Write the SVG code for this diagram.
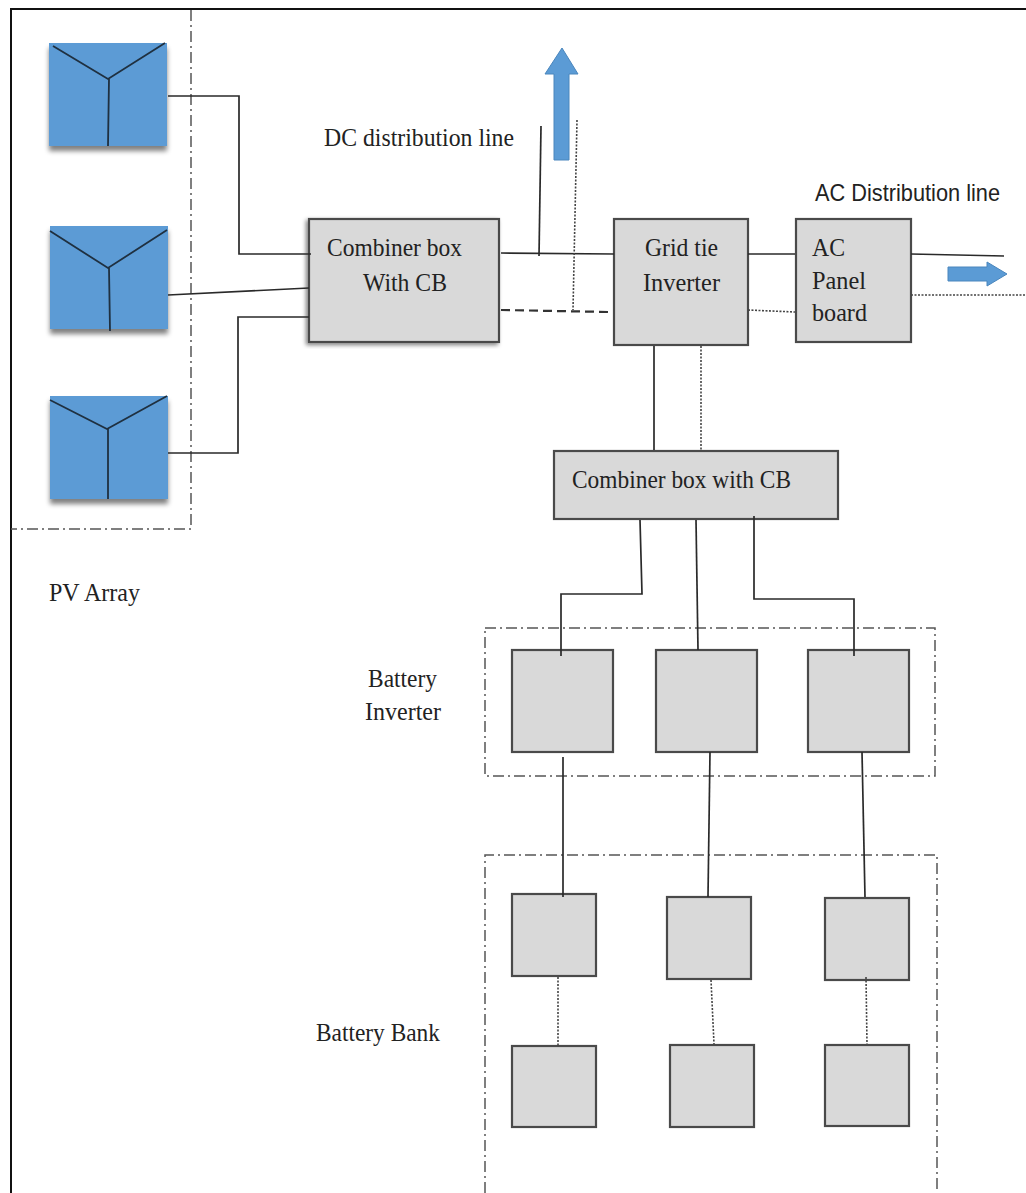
<svg xmlns="http://www.w3.org/2000/svg" width="1026" height="1193" viewBox="0 0 1026 1193">
<style>
.t{font-family:"Liberation Serif","Times New Roman",serif;font-size:26px;fill:#222}
.c{font-family:"Liberation Sans",Arial,sans-serif;font-size:24px;fill:#222}
.box{fill:#d9d9d9;stroke:#4a4a4a;stroke-width:2.2}
.pv{fill:#5b9bd5}
.y{fill:none;stroke:#1f3040;stroke-width:1.8}
.w{fill:none;stroke:#2a2a2a;stroke-width:1.7}
.dot{fill:none;stroke:#444;stroke-width:1.6;stroke-dasharray:2 1.5}
.dash{fill:none;stroke:#333;stroke-width:2.2;stroke-dasharray:9 5}
.bound{fill:none;stroke:#555;stroke-width:1.5;stroke-dasharray:11 4 2 4}
.arrow{fill:#5b9bd5;stroke:#4a86bd;stroke-width:1}
</style>
<defs>
<filter id="sh" x="-10%" y="-10%" width="125%" height="125%"><feGaussianBlur in="SourceAlpha" stdDeviation="2.5"/><feOffset dy="5"/><feComponentTransfer><feFuncA type="linear" slope="0.5"/></feComponentTransfer><feMerge><feMergeNode/><feMergeNode in="SourceGraphic"/></feMerge></filter>
<filter id="sh2" x="-5%" y="-5%" width="110%" height="110%"><feGaussianBlur in="SourceAlpha" stdDeviation="2"/><feOffset dx="-2" dy="2"/><feComponentTransfer><feFuncA type="linear" slope="0.5"/></feComponentTransfer><feMerge><feMergeNode/><feMergeNode in="SourceGraphic"/></feMerge></filter>
</defs>
<rect width="1026" height="1193" fill="#fff"/>
<path d="M11 1193V9H1026" fill="none" stroke="#111" stroke-width="2"/>
<g id="boundaries">
<path class="bound" d="M191 10V529H11"/>
<rect class="bound" x="485" y="628" width="450" height="148"/>
<path class="bound" d="M485 1193V855H937V1193"/>
</g>
<g id="pv1"><rect class="pv" x="49" y="43" width="118" height="103" filter="url(#sh)"/><path class="y" d="M53 46L108 79L165 43M109 79L108 146"/></g>
<g id="pv2"><rect class="pv" x="50" y="226" width="118" height="103" filter="url(#sh)"/><path class="y" d="M50 231L108 268L167 230M109 268L110 331"/></g>
<g id="pv3"><rect class="pv" x="50" y="396" width="118" height="103" filter="url(#sh)"/><path class="y" d="M50 400L107 429L167 396M108 429V499"/></g>
<g id="combiner1"><rect class="box" x="309" y="219" width="190" height="123" filter="url(#sh2)"/><text class="t" x="327" y="256" textLength="135" lengthAdjust="spacingAndGlyphs">Combiner box</text><text class="t" x="363" y="291" textLength="84" lengthAdjust="spacingAndGlyphs">With CB</text></g>
<g id="gridtie"><rect class="box" x="614" y="219" width="134" height="126"/><text class="t" x="645" y="256" textLength="73" lengthAdjust="spacingAndGlyphs">Grid tie</text><text class="t" x="643" y="291" textLength="77" lengthAdjust="spacingAndGlyphs">Inverter</text></g>
<g id="acpanel"><rect class="box" x="796" y="219" width="115" height="123"/><text class="t" x="812" y="256" textLength="33" lengthAdjust="spacingAndGlyphs">AC</text><text class="t" x="812" y="289" textLength="54" lengthAdjust="spacingAndGlyphs">Panel</text><text class="t" x="812" y="321" textLength="55" lengthAdjust="spacingAndGlyphs">board</text></g>
<g id="combiner2"><rect class="box" x="554" y="451" width="284" height="68"/><text class="t" x="572" y="488" textLength="219" lengthAdjust="spacingAndGlyphs">Combiner box with CB</text></g>
<g id="inv1"><rect class="box" x="512" y="650" width="101" height="102"/></g>
<g id="inv2"><rect class="box" x="656" y="650" width="101" height="102"/></g>
<g id="inv3"><rect class="box" x="808" y="650" width="101" height="102"/></g>
<g id="bat1"><rect class="box" x="512" y="894" width="84" height="82"/></g>
<g id="bat2"><rect class="box" x="667" y="897" width="84" height="82"/></g>
<g id="bat3"><rect class="box" x="825" y="898" width="84" height="82"/></g>
<g id="bat4"><rect class="box" x="512" y="1046" width="84" height="81"/></g>
<g id="bat5"><rect class="box" x="670" y="1045" width="84" height="82"/></g>
<g id="bat6"><rect class="box" x="825" y="1045" width="84" height="81"/></g>
<g id="connectors">
<path class="w" d="M168 96H239V254H311"/>
<path class="w" d="M168 295L309 288"/>
<path class="w" d="M168 453H238V317H309"/>
<path class="w" d="M501 253L614 254"/>
<path class="w" d="M541 126L539 256"/>
<path class="dot" d="M577 120L573 310"/>
<path class="dash" d="M501 310L609 312"/>
<path class="w" d="M748 254H795"/>
<path class="dot" d="M748 310L795 312"/>
<path class="w" d="M911 254L1004 256"/>
<path class="dot" d="M911 295L1026 295"/>
<path class="w" d="M654 346V450"/>
<path class="dot" d="M701 346V450"/>
<path class="w" d="M640 520L642 594H561V656"/>
<path class="w" d="M696 520L698 650"/>
<path class="w" d="M754 516V599H854V656"/>
<path class="w" d="M563 757V897"/>
<path class="w" d="M710 752L708 897"/>
<path class="w" d="M862 752L865 897"/>
<path class="dot" d="M558 977V1046"/>
<path class="dot" d="M711 980L714 1044"/>
<path class="dot" d="M866 977L867 1044"/>
<polygon class="arrow" points="554,160 554,74 545,74 562,48 578,74 569,74 569,160"/>
<polygon class="arrow" points="948,267 987,267 987,262 1007,274 987,286 987,281 948,281"/>
</g>
<g id="labels">
<text class="t" x="324" y="146" textLength="190" lengthAdjust="spacingAndGlyphs">DC distribution line</text>
<text class="c" x="815" y="201" textLength="185" lengthAdjust="spacingAndGlyphs">AC Distribution line</text>
<text class="t" x="49" y="601" textLength="91" lengthAdjust="spacingAndGlyphs">PV Array</text>
<text class="t" x="368" y="687" textLength="69" lengthAdjust="spacingAndGlyphs">Battery</text>
<text class="t" x="365" y="720" textLength="76" lengthAdjust="spacingAndGlyphs">Inverter</text>
<text class="t" x="316" y="1041" textLength="124" lengthAdjust="spacingAndGlyphs">Battery Bank</text>
</g>
</svg>
